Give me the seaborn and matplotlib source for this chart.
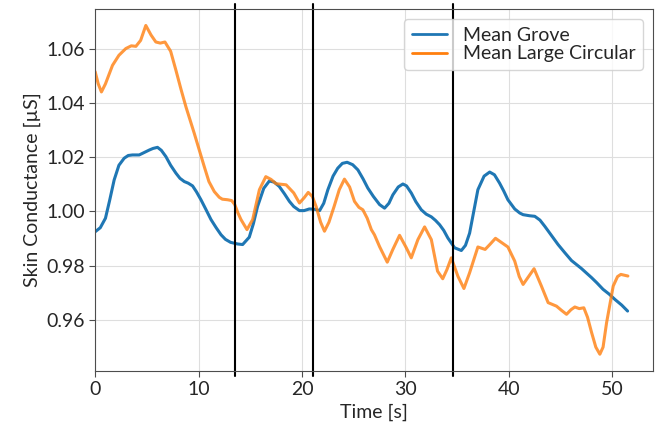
import numpy as np
import pandas as pd
import matplotlib
matplotlib.use("Agg")
import matplotlib.pyplot as plt
from matplotlib.lines import Line2D
import seaborn as sns

# values
grove_t = [0.0, 0.5, 1.0, 1.4, 1.84, 2.3, 2.81, 3.2, 3.61, 4.26, 4.8, 5.23, 5.6, 6.03, 6.4, 6.84,
           7.3, 7.81, 8.2, 8.62, 9.0, 9.42, 9.8, 10.23, 10.7, 11.2, 11.7, 12.17, 12.6, 13.1, 13.78,
           14.26, 14.9, 15.3, 15.7, 16.3, 16.84, 17.3, 17.8, 18.3, 18.78, 19.2, 19.75, 20.2, 20.7,
           21.2, 21.7, 22.1, 22.5, 23.0, 23.45, 23.9, 24.36, 24.9, 25.4, 25.9, 26.36, 26.9, 27.5,
           27.98, 28.4, 28.78, 29.3, 29.75, 30.1, 30.56, 31.0, 31.53, 32.0, 32.5, 32.9, 33.3, 33.7,
           34.1, 34.75, 35.4, 35.8, 36.2, 36.6, 37.0, 37.6, 38.14, 38.6, 39.1, 39.5, 39.9, 40.56,
           41.05, 41.37, 42.0, 42.5, 43.0, 43.47, 44.1, 44.75, 45.4, 46.05, 47.0, 47.99, 48.5, 49.1,
           49.7, 50.24, 50.9, 51.47]
grove_v = [0.9925, 0.9940, 0.9975, 1.0040, 1.0116, 1.0170, 1.0196, 1.0206, 1.0208, 1.0208, 1.0218,
           1.0226, 1.0232, 1.0236, 1.0225, 1.0202, 1.0170, 1.0141, 1.0122, 1.0110, 1.0104, 1.0094,
           1.0072, 1.0043, 1.0008, 0.9970, 0.9940, 0.9914, 0.9897, 0.9886, 0.9880, 0.9878, 0.9905,
           0.9955, 1.0018, 1.0085, 1.0112, 1.0108, 1.0092, 1.0065, 1.0037, 1.0018, 1.0003, 1.0003,
           1.0009, 1.0008, 1.0003, 1.0030, 1.0080, 1.0130, 1.0159, 1.0177, 1.0181, 1.0172, 1.0153,
           1.0120, 1.0086, 1.0055, 1.0025, 1.0012, 1.0030, 1.0061, 1.0090, 1.0101, 1.0094, 1.0068,
           1.0036, 1.0006, 0.9990, 0.9980, 0.9967, 0.9951, 0.9930, 0.9902, 0.9866, 0.9856, 0.9875,
           0.9920, 1.0000, 1.0080, 1.0130, 1.0145, 1.0135, 1.0104, 1.0075, 1.0043, 1.0009, 0.9994,
           0.9988, 0.9984, 0.9982, 0.9968, 0.9945, 0.9912, 0.9878, 0.9848, 0.9819, 0.9790, 0.9756,
           0.9737, 0.9713, 0.9695, 0.9676, 0.9655, 0.9633]

circ_t = [0.0, 0.3, 0.61, 1.0, 1.68, 2.3, 2.97, 3.5, 3.94, 4.4, 4.9, 5.4, 5.87, 6.3, 6.75, 7.3,
          7.81, 8.3, 8.78, 9.58, 10.55, 11.0, 11.52, 12.0, 12.3, 12.8, 13.2, 13.5, 13.8, 14.1,
          14.68, 15.23, 15.88, 16.5, 17.0, 17.5, 18.46, 19.2, 19.75, 20.2, 20.6, 21.0, 21.36,
          21.8, 22.17, 22.6, 23.1, 23.6, 24.1, 24.6, 25.07, 25.5, 25.88, 26.3, 26.7, 27.0, 27.5,
          28.24, 28.78, 29.43, 30.08, 30.56, 31.2, 31.85, 32.5, 33.1, 33.6, 34.0, 34.43, 35.07,
          35.65, 36.2, 37.0, 37.7, 38.2, 38.7, 39.3, 39.9, 40.56, 41.0, 41.37, 41.9, 42.43, 43.14,
          43.79, 44.6, 45.1, 45.57, 46.0, 46.37, 46.8, 47.24, 47.6, 47.99, 48.4, 48.79, 49.1,
          49.44, 50.08, 50.5, 50.82, 51.5]
circ_v = [1.0515, 1.0470, 1.0440, 1.0470, 1.0538, 1.0575, 1.0600, 1.0610, 1.0608, 1.0630, 1.0685,
          1.0650, 1.0624, 1.0620, 1.0624, 1.0590, 1.0520, 1.0450, 1.0385, 1.0288, 1.0165, 1.0110,
          1.0073, 1.0052, 1.0045, 1.0043, 1.0040, 1.0025, 0.9995, 0.9970, 0.9933, 0.9970, 1.0080,
          1.0128, 1.0118, 1.0102, 1.0098, 1.0068, 1.0031, 1.0050, 1.0070, 1.0055, 1.0018, 0.9960,
          0.9927, 0.9960, 1.0018, 1.0080, 1.0119, 1.0090, 1.0037, 1.0015, 1.0006, 0.9975, 0.9933,
          0.9914, 0.9870, 0.9813, 0.9860, 0.9912, 0.9866, 0.9829, 0.9896, 0.9943, 0.9896, 0.9780,
          0.9752, 0.9785, 0.9829, 0.9761, 0.9716, 0.9774, 0.9869, 0.9860, 0.9880, 0.9901, 0.9885,
          0.9869, 0.9817, 0.9760, 0.9731, 0.9760, 0.9789, 0.9725, 0.9664, 0.9651, 0.9635, 0.9621,
          0.9638, 0.9648, 0.9642, 0.9645, 0.9610, 0.9554, 0.9500, 0.9474, 0.9500, 0.9590, 0.9725,
          0.9760, 0.9768, 0.9762]

markers = [13.55, 21.07, 34.6]

sns.set_style("whitegrid", {"axes.edgecolor": "0.3", "grid.color": "0.87",
                            "xtick.bottom": True, "ytick.left": True})
plt.rcParams["font.family"] = ["Lato", "DejaVu Sans"]

fig, ax = plt.subplots(figsize=(6.56, 4.29), dpi=100)
fig.subplots_adjust(left=0.145, right=0.995, bottom=0.136, top=0.979)

grove = pd.DataFrame({"t": grove_t, "v": grove_v})
circ = pd.DataFrame({"t": circ_t, "v": circ_v})
sns.lineplot(data=grove, x="t", y="v", ax=ax, color="#1f77b4", lw=2.2)
sns.lineplot(data=circ, x="t", y="v", ax=ax, color="#ff7f0e", lw=2.2, alpha=0.8)

for m in markers:
    ax.axvline(m, ymin=-0.014, ymax=1.014, color="black", lw=1.5, clip_on=False)

ax.set_xlim(0, 53.9)
ax.set_xlabel("Time [s]", fontsize=14)
ax.set_ylabel("Skin Conductance [µS]", fontsize=14)
ax.tick_params(labelsize=14, length=4, color="0.3")

handles = [Line2D([], [], color="#1f77b4", lw=2), Line2D([], [], color="#ff7f0e", lw=2)]
ax.legend(handles, ["Mean Grove", "Mean Large Circular"], loc="upper right",
          fontsize=14, handlelength=1.8, borderpad=0.4, labelspacing=0.1)

fig.savefig("out.png", dpi=100)
